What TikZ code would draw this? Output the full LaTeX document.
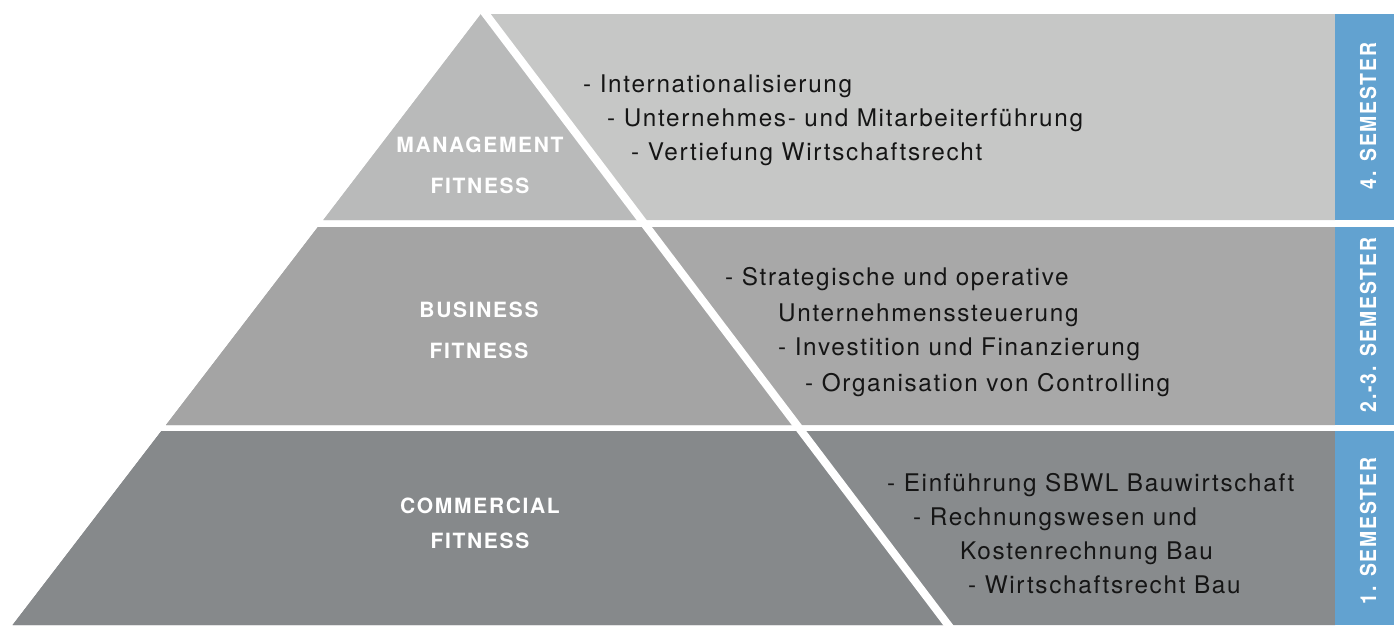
\documentclass[tikz,border=0pt]{standalone}
\usepackage{fontspec}
\setmainfont{TeX Gyre Heros}
\newfontfamily\itemfont[LetterSpace=7]{TeX Gyre Heros}
\newfontfamily\levelfont[LetterSpace=8]{TeX Gyre Heros}
\newfontfamily\semfont[LetterSpace=8,FakeStretch=0.88]{TeX Gyre Heros}
\usetikzlibrary{positioning}
\definecolor{bandtop}{HTML}{C6C7C6}
\definecolor{pyrtop}{HTML}{B9BABA}
\definecolor{bandmid}{HTML}{A8A8A8}
\definecolor{pyrmid}{HTML}{A4A4A4}
\definecolor{bandlow}{HTML}{888B8D}
\definecolor{pyrlow}{HTML}{86898B}
\definecolor{semblue}{HTML}{62A2D0}
\definecolor{itemtext}{HTML}{151515}

\begin{document}
\begin{tikzpicture}[
    x=1pt, y=-1pt,
    item/.style={anchor=base west, inner sep=0pt, text=itemtext, font=\itemfont\fontsize{24.3}{34}\selectfont},
    levelname/.style={align=center, inner sep=0pt, text=white, font=\levelfont\bfseries\fontsize{21}{41}\selectfont},
    semname/.style={rotate=90, inner sep=0pt, text=white, font=\semfont\bfseries\fontsize{22}{26}\selectfont},
    divider/.style={white, line width=8pt},
]
\useasboundingbox (0,0) rectangle (1394,625);

% Bands (right part)
\fill[bandtop] (481,14) -- (1335,14) -- (1335,220) -- (323.3,220) -- cycle;
\fill[bandmid] (317.9,227) -- (1335,227) -- (1335,425) -- (166.0,425) -- cycle;
\fill[bandlow] (161.4,431) -- (1335,431) -- (1335,625) -- (12.6,625) -- cycle;

% Pyramid
\fill[pyrtop] (481,14) -- (485.6,14) -- (641.6,220) -- (323.3,220) -- cycle;
\fill[pyrmid] (317.9,227) -- (646.9,227) -- (796.8,425) -- (166.0,425) -- cycle;
\fill[pyrlow] (161.4,431) -- (801.3,431) -- (948.2,625) -- (12.6,625) -- cycle;

% White diagonal
\coordinate (cuttop) at (478.8,5);
\coordinate (cutbot) at (955.7,635);
\draw[divider] (cuttop) -- (cutbot);

% Semester strip
\fill[semblue] (1335,14) rectangle (1394,220);
\fill[semblue] (1335,227) rectangle (1394,425);
\fill[semblue] (1335,431) rectangle (1394,625);

\node[semname] (sem4) at (1368,116) {4. SEMESTER};
\node[semname] (sem23) at (1368,325) {2.-3. SEMESTER};
\node[semname] (sem1) at (1368,531) {1. SEMESTER};

% Pyramid levels
\node[levelname] (mgmt) at (480,165) {MANAGEMENT\\FITNESS};
\node[levelname] (busi) at (479,330) {BUSINESS\\FITNESS};
\node[levelname, font=\levelfont\bfseries\fontsize{21}{35}\selectfont] (comm) at (480,523) {COMMERCIAL\\FITNESS};

% Contents
\node[item] (top1) at (583,92) {- Internationalisierung};
\node[item] (top2) at (607,126) {- Unternehmes- und Mitarbeiterführung};
\node[item] (top3) at (631,160) {- Vertiefung Wirtschaftsrecht};

\node[item] (mid1) at (725,285) {- Strategische und operative};
\node[item] (mid2) at (778,321) {Unternehmenssteuerung};
\node[item] (mid3) at (778,355) {- Investition und Finanzierung};
\node[item] (mid4) at (805,391) {- Organisation von Controlling};

\node[item] (low1) at (887,491) {- Einführung SBWL Bauwirtschaft};
\node[item] (low2) at (913,525) {- Rechnungswesen und};
\node[item] (low3) at (960,559) {Kostenrechnung Bau};
\node[item] (low4) at (968,593) {- Wirtschaftsrecht Bau};

\end{tikzpicture}
\end{document}
